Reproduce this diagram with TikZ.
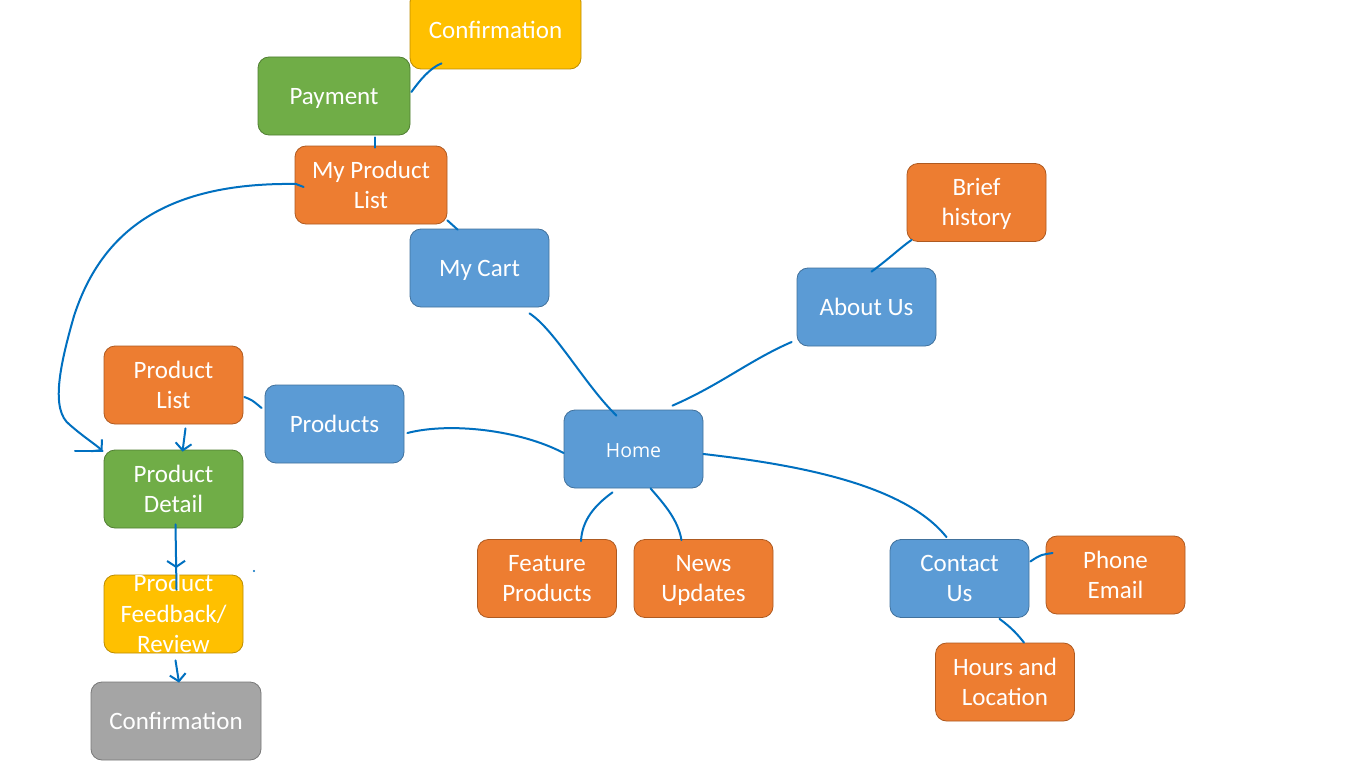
\documentclass[tikz,border=0pt]{standalone}
\usepackage{fontspec}
\setmainfont{Carlito}
\newfontfamily\homefont{Open Sans}
\usetikzlibrary{calc,arrows.meta,decorations.markings}
\definecolor{orng}{HTML}{ED7D31}
\definecolor{orngd}{HTML}{AE5A21}
\definecolor{blu}{HTML}{5B9BD5}
\definecolor{blud}{HTML}{41719C}
\definecolor{grn}{HTML}{70AD47}
\definecolor{grnd}{HTML}{507E32}
\definecolor{yel}{HTML}{FFC000}
\definecolor{yeld}{HTML}{BC8C00}
\definecolor{gry}{HTML}{A5A5A5}
\definecolor{gryd}{HTML}{787878}
\definecolor{lnk}{HTML}{0070C0}
\newcommand\topstrut{\rule{0pt}{24pt}}
\newcommand\botstrut{\rule[-7pt]{0pt}{7pt}}
\begin{document}
\begin{tikzpicture}[x=1pt,y=-1pt,
  box/.style={rounded corners=11pt, minimum width=139pt, minimum height=78pt,
    inner sep=0pt, text=white, align=center,
    font=\fontsize{25}{30}\selectfont, line width=0.8pt,
    execute at begin node=\topstrut, execute at end node=\botstrut},
  twoline/.style={execute at begin node={}, execute at end node={}, text depth=1pt},
  obox/.style={box, fill=orng, draw=orngd},
  bbox/.style={box, fill=blu, draw=blud},
  gbox/.style={box, fill=grn, draw=grnd},
  ybox/.style={box, fill=yel, draw=yeld},
  kbox/.style={box, fill=gry, draw=gryd},
  txt/.style={text=white, align=center, inner sep=0pt, font=\fontsize{25}{30.5}\selectfont,
    text depth=1pt},
  conn/.style={draw=lnk, line width=2pt, line cap=round, line join=round},
  tip/.style={-{Straight Barb[length=7pt,width=16pt]}},
  midtip/.style={postaction={decorate}, decoration={markings,
    mark=at position 0.67 with {\arrow[lnk,line width=2pt]{Straight Barb[length=6pt,width=18pt]}}}}
]
\useasboundingbox (0,0) rectangle (1366,768);
\fill[white] (0,0) rectangle (1366,768);
\begin{scope}
\clip (0,0) rectangle (1366,768);

% nodes
\node[ybox, minimum width=171pt] (conf1) at (495.5,30) {Confirmation};
\node[gbox, minimum width=152pt] (pay) at (334,96) {Payment};
\node[obox, twoline, minimum width=152pt] (mpl) at (371,185) {My Product\\List};
\node[bbox] (cart) at (479.5,268) {My Cart};
\node[obox, twoline] (brief) at (976.5,202.5) {Brief\\history};
\node[bbox] (about) at (866.5,307) {About Us};
\node[obox, twoline] (plist) at (173.5,385) {Product\\List};
\node[bbox] (prods) at (334.5,424) {Products};
\node[bbox, font=\homefont\fontsize{19.5}{22}\selectfont, execute at begin node={}, execute at end node={}] (home) at (633.5,449) {Home};
\node[gbox, twoline] (pdet) at (173.5,489) {Product\\Detail};
\node[obox, twoline] (feat) at (547,578.5) {Feature\\Products};
\node[obox, twoline] (news) at (703.5,578.5) {News\\Updates};
\node[bbox, twoline] (contact) at (959.5,578.5) {Contact\\Us};
\node[obox, twoline] (phone) at (1115.5,575) {Phone\\Email};
\node[obox, twoline] (hours) at (1005,682) {Hours and\\Location};
\node[ybox, execute at begin node={}, execute at end node={}] (fb) at (173.5,614) {};
\node[txt] (fbt) at (fb.center) {Product\\Feedback/\\Review};
\node[kbox, minimum width=170pt] (conf2) at (176,721) {Confirmation};

% connectors
\draw[conn] ($(pay.east)+(1,-4)$) .. controls (420,80) and (430,68) .. ($(conf1.south)+(-54,-6)$);
\draw[conn] ($(pay.south)+(41,2)$) -- ($(mpl.north)+(4,2)$);
\draw[conn] ($(mpl.south east)+(0,-4)$) -- ($(cart.north west)+(48,1)$);
\draw[conn] ($(cart.south)+(50,6)$) .. controls (555,330) and (585,385) .. ($(home.north)+(-17,6)$);
\draw[conn] ($(home.north)+(39,-4)$) .. controls (720,385) and (750,360) .. ($(about.west)+(-5,35)$);
\draw[conn] ($(about.north)+(5,4)$) .. controls (890,258) and (900,248) .. ($(brief.south west)+(5,-2)$);
\draw[conn] ($(prods.east)+(3,9)$) .. controls (450,422) and (520,430) .. ($(home.west)+(0,4)$);
\draw[conn] ($(plist.east)+(1,12)$) .. controls (252,400) .. ($(prods.west)+(-3,-16)$);
\draw[conn,tip] ($(plist.south)+(12,4)$) -- ($(pdet.north)+(9,2)$);
\draw[conn,tip] ($(mpl.west)+(9,2)$) -- (296,184)
   .. controls (160,182) and (100,236) .. (74,316)
   .. controls (60,365) and (50,410) .. (70,425)
   .. controls (85,438) and (95,444) .. ($(pdet.west)+(-1,-38)$);
\draw[conn] (75,451) -- ($(pdet.west)+(-1,-38)$);
\draw[conn,midtip] ($(pdet.south)+(2,-4)$) -- ($(fb.north)+(3,15)$);
\draw[conn,tip] ($(fb.south)+(2,7)$) -- ($(conf2.north)+(3,1)$);
\draw[conn] ($(home.south)+(-21,4)$) .. controls (595,505) and (582,520) .. ($(feat.north)+(34,2)$);
\draw[conn] ($(home.south)+(17,0)$) .. controls (665,505) and (678,520) .. ($(news.north)+(-22,1)$);
\draw[conn] ($(home.east)+(0,5)$) .. controls (800,465) and (905,485) .. ($(contact.north)+(-13,-2)$);
\draw[conn] ($(contact.east)+(1,-17)$) .. controls (1040,555) .. ($(phone.west)+(7,-22)$);
\draw[conn] ($(contact.south)+(40,1)$) .. controls (1012,628) and (1018,635) .. ($(hours.north)+(19,0)$);
\fill[lnk] (254,571) circle (1.2pt);
\end{scope}
\end{tikzpicture}
\end{document}
